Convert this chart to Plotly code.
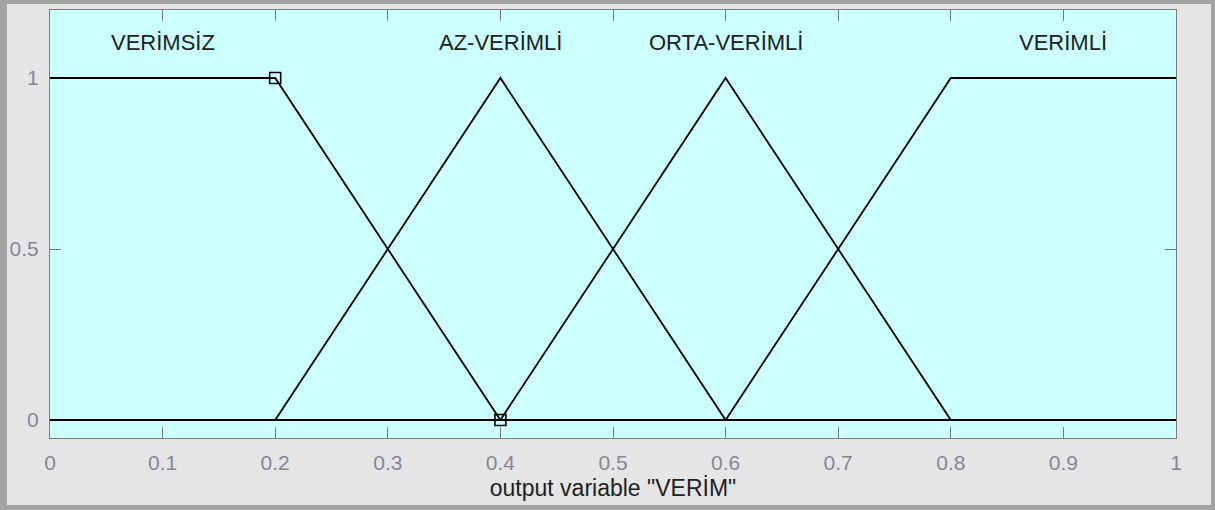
import plotly.graph_objects as go

# membership function breakpoints on the output variable "VERİM"
x_grid = [0.0, 0.2, 0.4, 0.6, 0.8, 1.0]
verimsiz = [1, 1, 0, 0, 0, 0]
az_verimli = [0, 0, 1, 0, 0, 0]
orta_verimli = [0, 0, 0, 1, 0, 0]
verimli = [0, 0, 0, 0, 1, 1]

mf_names = ["VERİMSİZ", "AZ-VERİMLİ", "ORTA-VERİMLİ", "VERİMLİ"]
mf_label_x = [0.1, 0.4, 0.6, 0.9]
mf_label_y = [1.105, 1.105, 1.105, 1.105]

# selected MF handles
handle_x = [0.2, 0.4]
handle_y = [1, 0]

x_ticks = [0, 0.1, 0.2, 0.3, 0.4, 0.5, 0.6, 0.7, 0.8, 0.9, 1]
x_tick_text = ["0", "0.1", "0.2", "0.3", "0.4", "0.5", "0.6", "0.7", "0.8", "0.9", "1"]
y_ticks = [0, 0.5, 1]
y_tick_text = ["0", "0.5", "1"]

W, H = 1215, 510
L, R, T, B = 50, 39, 10, 72
pw, ph = W - L - R, H - T - B
FONT = "Liberation Sans, Arial"


def px(x):
    return (x - L) / pw


def py(y):
    return (H - B - y) / ph


fig = go.Figure()
for ys in [verimsiz, az_verimli, orta_verimli, verimli]:
    fig.add_trace(go.Scatter(x=x_grid, y=ys, mode="lines",
                             line=dict(color="black", width=1.8),
                             showlegend=False, hoverinfo="skip"))

fig.add_trace(go.Scatter(x=handle_x, y=handle_y, mode="markers",
                         marker=dict(symbol="square-open", size=11, color="black",
                                     line=dict(width=1.6, color="black")),
                         showlegend=False, hoverinfo="skip"))

for name, lx, ly in zip(mf_names, mf_label_x, mf_label_y):
    fig.add_annotation(x=lx, y=ly, text=name, showarrow=False,
                       font=dict(family=FONT, size=22, color="#202020"))

# light panel inside the grey window frame, then the cyan axes area on top
fig.add_shape(type="rect", xref="paper", yref="paper",
              x0=px(7), x1=px(W - 4), y0=py(H - 5), y1=py(4),
              fillcolor="#E5E5E5", line_width=0, layer="below")
fig.add_shape(type="rect", xref="paper", yref="paper",
              x0=0, x1=1, y0=0, y1=1,
              fillcolor="#CCFFFF", line_width=0, layer="below")

axis_style = dict(showline=True, mirror="ticks", linecolor="#7A7A7A", linewidth=1,
                  ticks="inside", ticklen=11, tickcolor="#7A7A7A", showgrid=False,
                  zeroline=False, layer="below traces",
                  tickfont=dict(family=FONT, size=21, color="#85859A"))

fig.update_xaxes(range=[0, 1], tickvals=x_ticks, ticktext=x_tick_text,
                 ticklabelstandoff=6,
                 title=dict(text='output variable "VERİM"', standoff=6,
                            font=dict(family=FONT, size=23, color="#1E1E1E")),
                 **axis_style)
fig.update_yaxes(range=[-0.0526, 1.1988], tickvals=y_ticks, ticktext=y_tick_text,
                 ticklabelstandoff=6,
                 **axis_style)

fig.update_layout(width=W, height=H, margin=dict(l=L, r=R, t=T, b=B, pad=0),
                  paper_bgcolor="#A3A3A3", plot_bgcolor="#CCFFFF")

fig.write_html("out.html", config={"displayModeBar": False},
               post_script="document.body.style.margin='0';")
